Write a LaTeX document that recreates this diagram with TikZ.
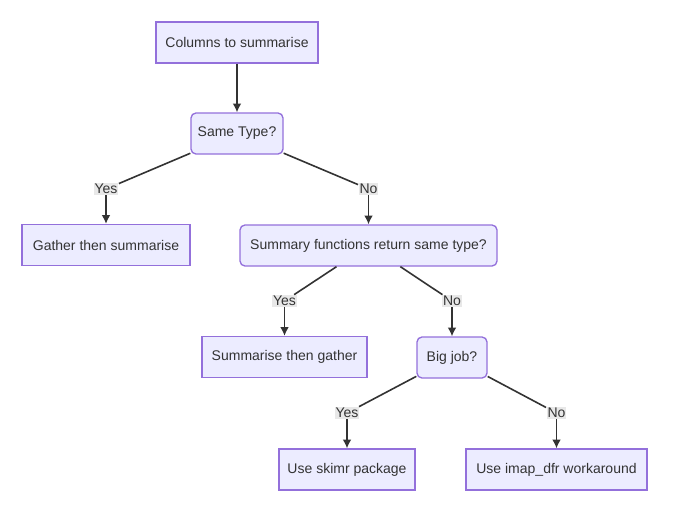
\documentclass[tikz,border=0pt]{standalone}
\usepackage{fontspec}
\setmainfont{Liberation Sans}
\usetikzlibrary{arrows.meta}
\definecolor{cecebff}{RGB}{236,236,255}
\definecolor{c9370db}{RGB}{147,112,219}
\definecolor{c333333}{RGB}{51,51,51}
\definecolor{ce8e8e8}{RGB}{232,232,232}
\tikzset{every path/.style={draw,>={Latex[length=6.5pt,width=6.5pt]},line width=1.2pt,color=c333333}}

\begin{document}
\begin{tikzpicture}[x=0.75pt,y=-0.75pt]
\path[use as bounding box,draw=none] (0,0) rectangle (685,519);
\begin{scope}[every node/.style={draw=c9370db,fill=cecebff,line width=1pt,minimum height=30.75pt,
inner sep=0pt,text=c333333,font = \fontsize{10.5}{12}\selectfont}]
\node[minimum width=121.5pt] (cols) at (237,42.5) {Columns to summarise};
\node[rounded corners=3.75pt,minimum width=69pt] (same) at (237,133.5) {Same Type?};
\node[minimum width=126pt] (gather) at (106,245) {Gather then summarise};
\node[rounded corners=3.75pt,minimum width=192.75pt] (funs) at (368.5,245.5) {Summary functions return same type?};
\node[minimum width=123.75pt] (summ) at (284.5,357) {Summarise then gather};
\node[rounded corners=3.75pt,minimum width=52.5pt] (big) at (452,357.5) {Big job?};
\node[minimum width=102pt] (skimr) at (347,469.5) {Use skimr package};
\node[minimum width=135.75pt] (imap) at (556.5,469.5) {Use imap\_dfr workaround};
\end{scope}

\begin{scope}[every node/.style={fill=ce8e8e8,inner sep=0.5pt,text=c333333,font = \fontsize{10.5}{12}\selectfont}]
\node (yes1) at (106,189) {Yes};
\node (no1) at (368.5,189) {No};
\node (yes2) at (284.5,301) {Yes};
\node (no2) at (452,301) {No};
\node (yes3) at (347,413) {Yes};
\node (no3) at (556.5,413) {No};
\end{scope}

\path[->] (cols) -- (same);
\path[-] (same) -- (yes1);
\path[->] (yes1) -- (gather);
\path[-] (same) -- (no1);
\path[->] (no1) -- (funs);
\path[-] (funs) -- (yes2);
\path[->] (yes2) -- (summ);
\path[-] (funs) -- (no2);
\path[->] (no2) -- (big);
\path[-] (big) -- (yes3);
\path[->] (yes3) -- (skimr);
\path[-] (big) -- (no3);
\path[->] (no3) -- (imap);

\end{tikzpicture}
\end{document}
